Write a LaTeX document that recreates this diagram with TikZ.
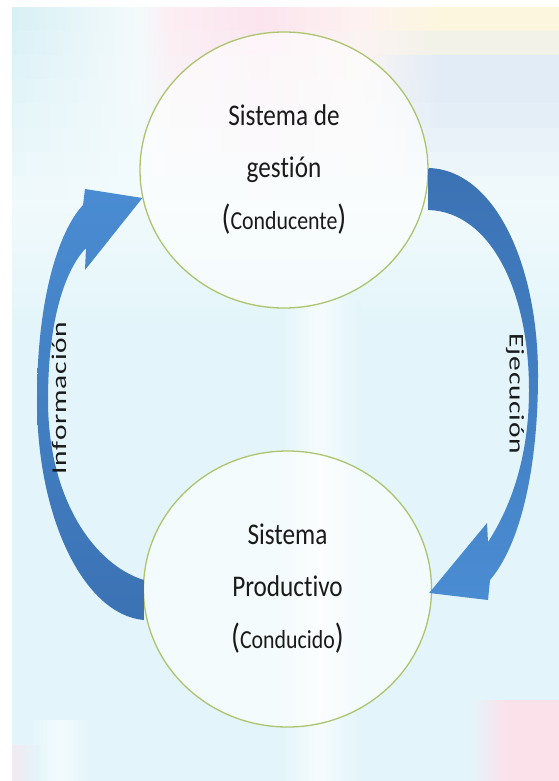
\documentclass[tikz,border=0pt]{standalone}
\usepackage{fontspec}
\usetikzlibrary{shapes.geometric,calc}

\newfontfamily\boxfont[FakeStretch=0.84,Ligatures=NoCommon]{Carlito}
\newfontfamily\sidefont[FakeStretch=1.4,LetterSpace=4,Ligatures=NoCommon]{Carlito}

\definecolor{bgcyan}{HTML}{E3F5FA}
\definecolor{bandfloor}{HTML}{F1FAFC}
\definecolor{ringgreen}{HTML}{ADC46E}
\definecolor{arrowdark}{HTML}{3B72B4}
\definecolor{arrowlight}{HTML}{4A8CD2}
\definecolor{labelink}{HTML}{1A1A1A}
\definecolor{bandA}{HTML}{D8F0F6}
\definecolor{bandB}{HTML}{F4FAFB}
\definecolor{bandC}{HTML}{FCEEF3}
\definecolor{bandD}{HTML}{FBE4EE}
\definecolor{bandE}{HTML}{FDF2F1}
\definecolor{bandF}{HTML}{FCF6DE}
\definecolor{paleblue}{HTML}{E2ECF6}
\definecolor{palepink}{HTML}{FBE2EA}

% one horizontal strip of the colour band along the top edge:
% name, strength of the colours, colour of the right-hand end
\newcommand\declstrip[3]{%
  \pgfdeclarehorizontalshading{#1}{100bp}{%
    color(0bp)=(bandA!#2!bandfloor); color(25bp)=(bandA!#2!bandfloor);
    color(36.7bp)=(bandB!#2!bandfloor); color(39.4bp)=(bandC!#2!bandfloor);
    color(47.7bp)=(bandD!#2!bandfloor); color(56.8bp)=(bandE!#2!bandfloor);
    color(64bp)=(#3); color(75bp)=(#3); color(100bp)=(#3)}}
\declstrip{stripa}{100}{bandF}
\declstrip{stripb}{88}{bandF!60!paleblue}
\declstrip{stripc}{75}{paleblue}
\declstrip{stripd}{62}{paleblue}
\declstrip{stripe}{50}{paleblue!85!bandfloor}
\declstrip{stripf}{38}{paleblue!60!bandfloor}
\declstrip{stripg}{25}{paleblue!35!bandfloor}
\declstrip{striph}{12}{paleblue!12!bandfloor}

% large brackets around a smaller word
\newcommand\bigparen[1]{{\fontsize{35}{52}\selectfont(}{\fontsize{26}{52}\selectfont #1}{\fontsize{35}{52}\selectfont)}}

\tikzset{
  sysbox/.style={ellipse, draw=ringgreen, line width=1.3pt, fill=white,
    fill opacity=0.6, text opacity=1, minimum width=288pt, minimum height=276pt,
    inner sep=0pt, align=center, text=labelink,
    font=\boxfont\fontsize{30}{52}\selectfont},
  sidelabel/.style={text=labelink, inner sep=0pt,
    font=\sidefont\fontsize{21}{24}\selectfont},
  bandarrow/.style={draw=none}
}

\begin{document}
\begin{tikzpicture}[x=1pt,y=-1pt]
\useasboundingbox (0,0) rectangle (559,781);

% faded backdrop
\fill[white] (0,0) rectangle (559,781);
\fill[bgcyan] (12,8) rectangle (559,781);
\shade[shading=stripa] (12,8) rectangle (559,32.5);
\shade[shading=stripb] (12,32) rectangle (559,56.5);
\shade[shading=stripc] (12,56) rectangle (559,80.5);
\shade[shading=stripd] (12,80) rectangle (559,104.5);
\shade[shading=stripe] (12,104) rectangle (559,128.5);
\shade[shading=stripf] (12,128) rectangle (559,152.5);
\shade[shading=stripg] (12,152) rectangle (559,176.5);
\shade[shading=striph] (12,176) rectangle (559,200.5);
\shade[top color=bandfloor, bottom color=bgcyan] (12,200) rectangle (559,330);
\shade[left color=bgcyan, right color=bgcyan, middle color=white!65!bgcyan]
  (280,300) rectangle (360,781);
\shade[left color=bgcyan, right color=bgcyan, middle color=white!55!bgcyan]
  (30,720) rectangle (90,781);
\shade[left color=bgcyan, right color=palepink] (470,700) rectangle (505,781);
\fill[palepink] (505,700) rectangle (559,781);
\shade[left color=palepink!60!bgcyan, right color=bgcyan] (12,745) rectangle (40,781);

% the two systems
\node[sysbox] (gestion) at (284,170)
  {Sistema de\\gestión\\\bigparen{Conducente}};
\node[sysbox] (productivo) at (287.5,589)
  {Sistema\\Productivo\\\bigparen{Conducido}};

% anchor points of the two curved arrows
\coordinate (ejeA) at ($(gestion.east)+(0,-2)$);
\coordinate (ejeB) at ($(gestion.east)+(0,40)$);
\coordinate (ejeTip) at ($(productivo.east)+(-3,4)$);
\coordinate (infA) at ($(productivo.west)+(1,-9)$);
\coordinate (infB) at ($(productivo.west)+(1,31)$);
\coordinate (infTip) at ($(gestion.west)+(3,28)$);

% Ejecucion: from the management system down to the production system
\path[bandarrow, top color=arrowdark, bottom color=arrowlight]
  (ejeA) .. controls (495,170) and (538,265) .. (538,375)
  .. controls (538,470) and (520,545) .. (490,580)
  -- (488,600) -- (ejeTip) -- (487,523) -- (488,542)
  .. controls (512,505) and (529,455) .. (529,390)
  .. controls (529,290) and (490,212) .. (ejeB) -- cycle;

% Informacion: from the production system back up
\path[bandarrow, top color=arrowlight, bottom color=arrowdark]
  (infB) .. controls (85,615) and (37,520) .. (37,400)
  .. controls (37,300) and (58,232) .. (83,205)
  -- (85,189) -- (infTip) -- (85,270) -- (86,248)
  .. controls (65,270) and (48,320) .. (48,400)
  .. controls (48,500) and (95,565) .. (infA) -- cycle;

\node[sidelabel, rotate=90] (infLbl) at (59,398) {Información};
\node[sidelabel, rotate=-90] (ejeLbl) at (515,394) {Ejecución};
\end{tikzpicture}
\end{document}
